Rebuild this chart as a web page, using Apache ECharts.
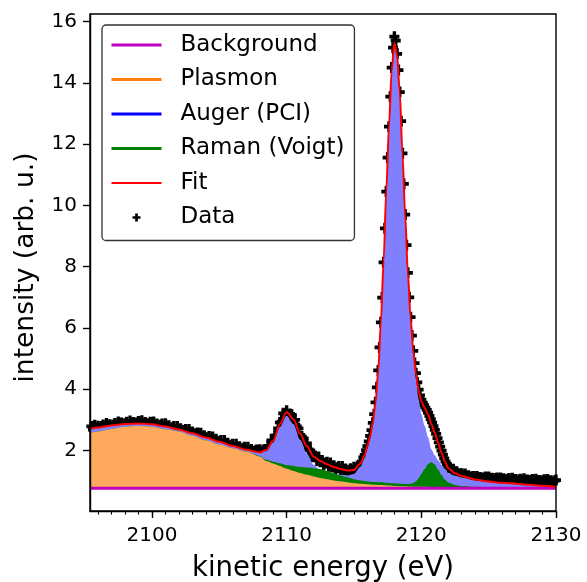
<!DOCTYPE html>
<html>
<head>
<meta charset="utf-8">
<title>Auger / Raman fit</title>
<script src="https://cdn.jsdelivr.net/npm/echarts@6.0.0/dist/echarts.min.js"></script>
<style>
  html, body { margin: 0; padding: 0; background: #fff; }
  #chart { width: 587px; height: 582px; }
</style>
</head>
<body>
<div id="chart"></div>
<script>
// energy grid of the fit components (eV), finer around the main line
var compEnergy = [2095.4, 2096, 2097, 2098, 2099, 2100, 2101, 2102, 2103, 2104, 2105, 2106, 2107, 2108,
    2108.5, 2109, 2109.5, 2110, 2110.5, 2111, 2111.5, 2112, 2112.5, 2113, 2113.5, 2114, 2114.5, 2115,
    2115.5, 2115.8,
    2116, 2116.2, 2116.4, 2116.6, 2116.8, 2117, 2117.2, 2117.4, 2117.6, 2117.8, 2118, 2118.2, 2118.4, 2118.6, 2118.8, 2119, 2119.2, 2119.4, 2119.6, 2119.8,
    2120, 2120.25, 2120.5, 2120.75, 2121, 2121.25, 2121.5, 2121.75, 2122,
    2122.5, 2123,
    2124, 2125, 2126, 2127, 2128, 2129, 2130];

var backgroundLevel = 0.76;

var plasmon = [1.81, 1.86, 1.94, 2.01, 2.04, 2.01, 1.93, 1.86, 1.72, 1.57, 1.43, 1.31, 1.20, 1.04,
    0.89, 0.81, 0.73, 0.64, 0.57, 0.50, 0.44, 0.39, 0.34, 0.30, 0.26, 0.23, 0.20, 0.17,
    0.15, 0.14,
    0.13, 0.125, 0.12, 0.115, 0.11, 0.105, 0.10, 0.095, 0.09, 0.085, 0.08, 0.075, 0.07, 0.07, 0.065, 0.06, 0.06, 0.055, 0.055, 0.05,
    0.05, 0.05, 0.045, 0.04, 0.04, 0.04, 0.035, 0.035, 0.03,
    0.03, 0.025,
    0.02, 0.015, 0.01, 0.008, 0.005, 0.002, 0];

var auger = [0.14, 0.13, 0.11, 0.09, 0.08, 0.08, 0.09, 0.06, 0.08, 0.09, 0.09, 0.07, 0.06, 0.11,
    0.33, 0.69, 1.27, 1.73, 1.53, 1.09, 0.70, 0.38, 0.26, 0.22, 0.21, 0.21, 0.22, 0.30,
    0.56, 0.85,
    1.16, 1.48, 1.93, 2.59, 3.64, 5.25, 7.25, 9.56, 11.67, 13.48, 14.38, 13.99, 12.79, 10.79, 8.80, 6.90, 5.44, 4.32, 3.52, 2.86,
    2.37, 1.99, 1.62, 1.23, 1.04, 0.88, 0.73, 0.59, 0.47,
    0.38, 0.33,
    0.24, 0.19, 0.16, 0.13, 0.11, 0.08, 0.05];

var raman = [0, 0, 0, 0, 0, 0, 0, 0, 0, 0, 0, 0, 0, 0.02,
    0.04, 0.06, 0.09, 0.12, 0.16, 0.20, 0.24, 0.27, 0.29, 0.27, 0.23, 0.19, 0.16, 0.13,
    0.11, 0.10,
    0.10, 0.09, 0.09, 0.09, 0.09, 0.09, 0.09, 0.085, 0.085, 0.08, 0.08, 0.08, 0.08, 0.08, 0.08, 0.08, 0.09, 0.12, 0.17, 0.28,
    0.42, 0.58, 0.75, 0.82, 0.74, 0.57, 0.40, 0.25, 0.16,
    0.08, 0.05,
    0.03, 0.02, 0.01, 0.01, 0, 0, 0];

// measured points in three blocks (start, step)
var dataLowStart = 2095.5, dataLowStep = 0.125;
var dataLow = [2.78, 2.68, 2.82, 2.72, 2.79, 2.68, 2.78, 2.83, 2.73, 2.88,
    2.78, 2.84, 2.73, 2.83, 2.88, 2.78, 2.93, 2.82, 2.89, 2.78,
    2.87, 2.92, 2.82, 2.96, 2.85, 2.91, 2.80, 2.89, 2.94, 2.83,
    2.97, 2.85, 2.91, 2.79, 2.87, 2.92, 2.80, 2.93, 2.81, 2.86,
    2.74, 2.82, 2.86, 2.74, 2.87, 2.75, 2.80, 2.66, 2.74, 2.78,
    2.66, 2.78, 2.66, 2.71, 2.57, 2.65, 2.68, 2.56, 2.68, 2.56,
    2.60, 2.46, 2.54, 2.57, 2.44, 2.56, 2.44, 2.48, 2.34, 2.41,
    2.45, 2.32, 2.44, 2.31, 2.36, 2.22, 2.29, 2.32, 2.20, 2.32,
    2.19, 2.23, 2.10, 2.17, 2.20, 2.08, 2.20, 2.08, 2.12, 1.99,
    2.06, 2.10, 1.97, 2.10, 1.98, 2.03, 1.90, 1.97, 2.01, 1.89,
    2.02, 1.93, 2.00, 1.91, 2.03, 2.15, 2.10, 2.33, 2.30, 2.48,
    2.48, 2.72, 2.91, 2.94, 3.21, 3.17, 3.29, 3.14, 3.19, 3.16,
    2.97, 3.00, 2.78, 2.72, 2.47, 2.45, 2.39, 2.19, 2.23, 2.03,
    2.00, 1.80, 1.81, 1.82, 1.67, 1.78, 1.63, 1.67, 1.52, 1.59,
    1.61, 1.48, 1.59, 1.46, 1.50, 1.36, 1.43, 1.47, 1.34, 1.47,
    1.34, 1.39, 1.26, 1.35, 1.40, 1.30, 1.45];

var dataPeakStart = 2115.1, dataPeakStep = 0.1;
var dataPeak = [1.41, 1.40, 1.48, 1.50, 1.60, 1.64, 1.77, 1.85, 2.01,
    2.14, 2.29, 2.47, 2.66, 2.90, 3.18, 3.57, 4.06, 4.61, 5.36,
    6.18, 6.99, 8.14, 9.25, 10.45, 11.56, 12.57, 13.55, 14.5, 15.15,
    15.51, 15.38, 14.95, 14.42, 13.7, 12.75, 11.7, 10.7, 9.7, 8.7,
    7.8, 7.0, 6.35, 5.75, 5.25, 4.85, 4.52, 4.22, 3.98, 3.80,
    3.66, 3.56, 3.48, 3.40, 3.32, 3.23, 3.13, 3.02, 2.91, 2.79,
    2.67, 2.54, 2.40, 2.26, 2.12, 1.99, 1.86, 1.74, 1.63, 1.54,
    1.46];

var dataHighStart = 2122.125, dataHighStep = 0.125;
var dataHigh = [1.44, 1.33, 1.38, 1.29, 1.30, 1.20, 1.24, 1.24, 1.16, 1.23,
    1.15, 1.17, 1.09, 1.14, 1.15, 1.07, 1.15, 1.09, 1.11, 1.04,
    1.10, 1.13, 1.05, 1.13, 1.07, 1.09, 1.02, 1.08, 1.10, 1.03,
    1.10, 1.04, 1.07, 1.00, 1.05, 1.08, 1.01, 1.09, 1.02, 1.05,
    0.98, 1.04, 1.06, 0.99, 1.07, 1.01, 1.03, 0.96, 1.02, 1.05,
    0.98, 1.06, 0.99, 1.02, 0.95, 1.01, 1.04, 0.97, 1.05, 0.99,
    1.01, 0.94, 1.00, 1.03];

var xTicks = [2100, 2110, 2120, 2130];
var yTicks = [2, 4, 6, 8, 10, 12, 14, 16];

var FONT = 'DejaVu Sans';

function pairs(ys) {
    return compEnergy.map(function (e, i) { return [e, ys[i]]; });
}

function block(start, step, ys) {
    return ys.map(function (y, i) { return [Math.round((start + i * step) * 1000) / 1000, y]; });
}

// cumulative levels (background + components), used for the fills and the fit
var bgLevel = compEnergy.map(function () { return backgroundLevel; });
var plasmonTop = compEnergy.map(function (e, i) { return backgroundLevel + plasmon[i]; });
var augerTop = compEnergy.map(function (e, i) { return plasmonTop[i] + auger[i]; });
var ramanTop = compEnergy.map(function (e, i) { return plasmonTop[i] + raman[i]; });
var fitVals = compEnergy.map(function (e, i) { return plasmonTop[i] + auger[i] + raman[i]; });

var points = block(dataLowStart, dataLowStep, dataLow)
    .concat(block(dataPeakStart, dataPeakStep, dataPeak))
    .concat(block(dataHighStart, dataHighStep, dataHigh));

// minor ticks every 1 eV
var minorTicks = [];
for (var t = 2096; t <= 2130; t++) minorTicks.push(t);

var SMOOTH = 0.3;

// opaque areas filled down to the axis, painted back to front
function fill(ys, color) {
    return { type: 'line', data: pairs(ys), symbol: 'none', smooth: SMOOTH, smoothMonotone: 'x',
             lineStyle: { width: 0, opacity: 0 },
             areaStyle: { color: color, opacity: 1, origin: 'start' }, silent: true };
}
// legend-only entries
function proxy(name, color) {
    return { name: name, type: 'line', data: [], symbol: 'none', lineStyle: { color: color, width: 3 }, itemStyle: { color: color } };
}
// legend entry drawn as a plain line (symbol hidden)
function lineItem(name, color, width) {
    return { name: name, itemStyle: { opacity: 0 }, lineStyle: { color: color, width: width, opacity: 1 } };
}

var plusPath = 'path://M3.3,0H6.7V3.3H10V6.7H6.7V10H3.3V6.7H0V3.3H3.3Z';

var chart = echarts.init(document.getElementById('chart'), null, { renderer: 'canvas' });

var option = {
    animation: false,
    backgroundColor: '#fff',
    textStyle: { fontFamily: FONT },
    grid: { left: 90, right: 31, top: 14, bottom: 71, show: true, z: 10, outerBoundsMode: 'none', containLabel: false,
            borderColor: '#000', borderWidth: 1.4, backgroundColor: 'transparent' },
    legend: {
        orient: 'vertical', left: 102, top: 25, z: 20,
        data: [
            lineItem('Background', '#bf00bf', 3),
            lineItem('Plasmon', '#ff7f0e', 3),
            lineItem('Auger (PCI)', '#0000ff', 3),
            lineItem('Raman (Voigt)', '#008000', 3),
            lineItem('Fit', '#ff0000', 2),
            'Data'
        ],
        itemWidth: 50, itemHeight: 8, itemGap: 8.5,
        padding: [7, 10, 10, 8],
        backgroundColor: '#fff', borderColor: '#333', borderWidth: 1.3, borderRadius: 4,
        selectedMode: false,
        textStyle: { fontFamily: FONT, fontSize: 23, color: '#000', lineHeight: 26, padding: [0, 0, 0, 14] }
    },
    xAxis: [{
        type: 'value', min: 2095.4, max: 2130, position: 'bottom', z: 10,
        name: 'kinetic energy (eV)', nameLocation: 'middle', nameGap: 44,
        nameTextStyle: { fontFamily: FONT, fontSize: 27.5, color: '#000' },
        axisLine: { show: true, lineStyle: { color: '#000', width: 1.4 } },
        axisTick: { show: true, customValues: xTicks, length: 7, lineStyle: { color: '#000', width: 1.4 } },
        axisLabel: { customValues: xTicks, formatter: function (v) { return String(v); },
                     fontFamily: FONT, fontSize: 20, color: '#000', margin: 15, showMinLabel: true, showMaxLabel: true },
        splitLine: { show: false }
    }, {
        type: 'value', min: 2095.4, max: 2130, position: 'bottom', z: 10,
        axisLine: { show: false },
        axisTick: { show: true, customValues: minorTicks, length: 3.6, lineStyle: { color: '#000', width: 1.1 } },
        axisLabel: { show: false },
        splitLine: { show: false }
    }],
    yAxis: {
        type: 'value', min: 0.02, max: 16.25, z: 10,
        name: 'intensity (arb. u.)', nameLocation: 'middle', nameGap: 50,
        nameTextStyle: { fontFamily: FONT, fontSize: 26.5, color: '#000', padding: [0, 10, 0, 0] },
        axisLine: { show: true, lineStyle: { color: '#000', width: 1.4 } },
        axisTick: { show: true, customValues: yTicks, length: 7, lineStyle: { color: '#000', width: 1.4 } },
        axisLabel: { customValues: yTicks, formatter: function (v) { return String(v); },
                     fontFamily: FONT, fontSize: 20, color: '#000', margin: 13, padding: [4, 0, 0, 0] },
        splitLine: { show: false }
    },
    series: [
        fill(augerTop, '#8080ff'),
        fill(ramanTop, '#008000'),
        fill(plasmonTop, '#fea95e'),
        fill(bgLevel, '#ffffff'),
        {
            name: 'Background', type: 'line', data: pairs(bgLevel), symbol: 'none',
            lineStyle: { color: '#bf00bf', width: 3 }, itemStyle: { color: '#bf00bf' }
        },
        proxy('Plasmon', '#ff7f0e'),
        proxy('Auger (PCI)', '#0000ff'),
        proxy('Raman (Voigt)', '#008000'),
        {
            name: 'Data', type: 'scatter', data: points, symbol: plusPath, symbolSize: [10, 11],
            itemStyle: { color: '#000', opacity: 1 }
        },
        {
            name: 'Fit', type: 'line', data: pairs(fitVals), symbol: 'none', smooth: SMOOTH, smoothMonotone: 'x',
            lineStyle: { color: '#ff0000', width: 2 }, itemStyle: { color: '#ff0000' }
        }
    ]
};

chart.setOption(option);
</script>
</body>
</html>
